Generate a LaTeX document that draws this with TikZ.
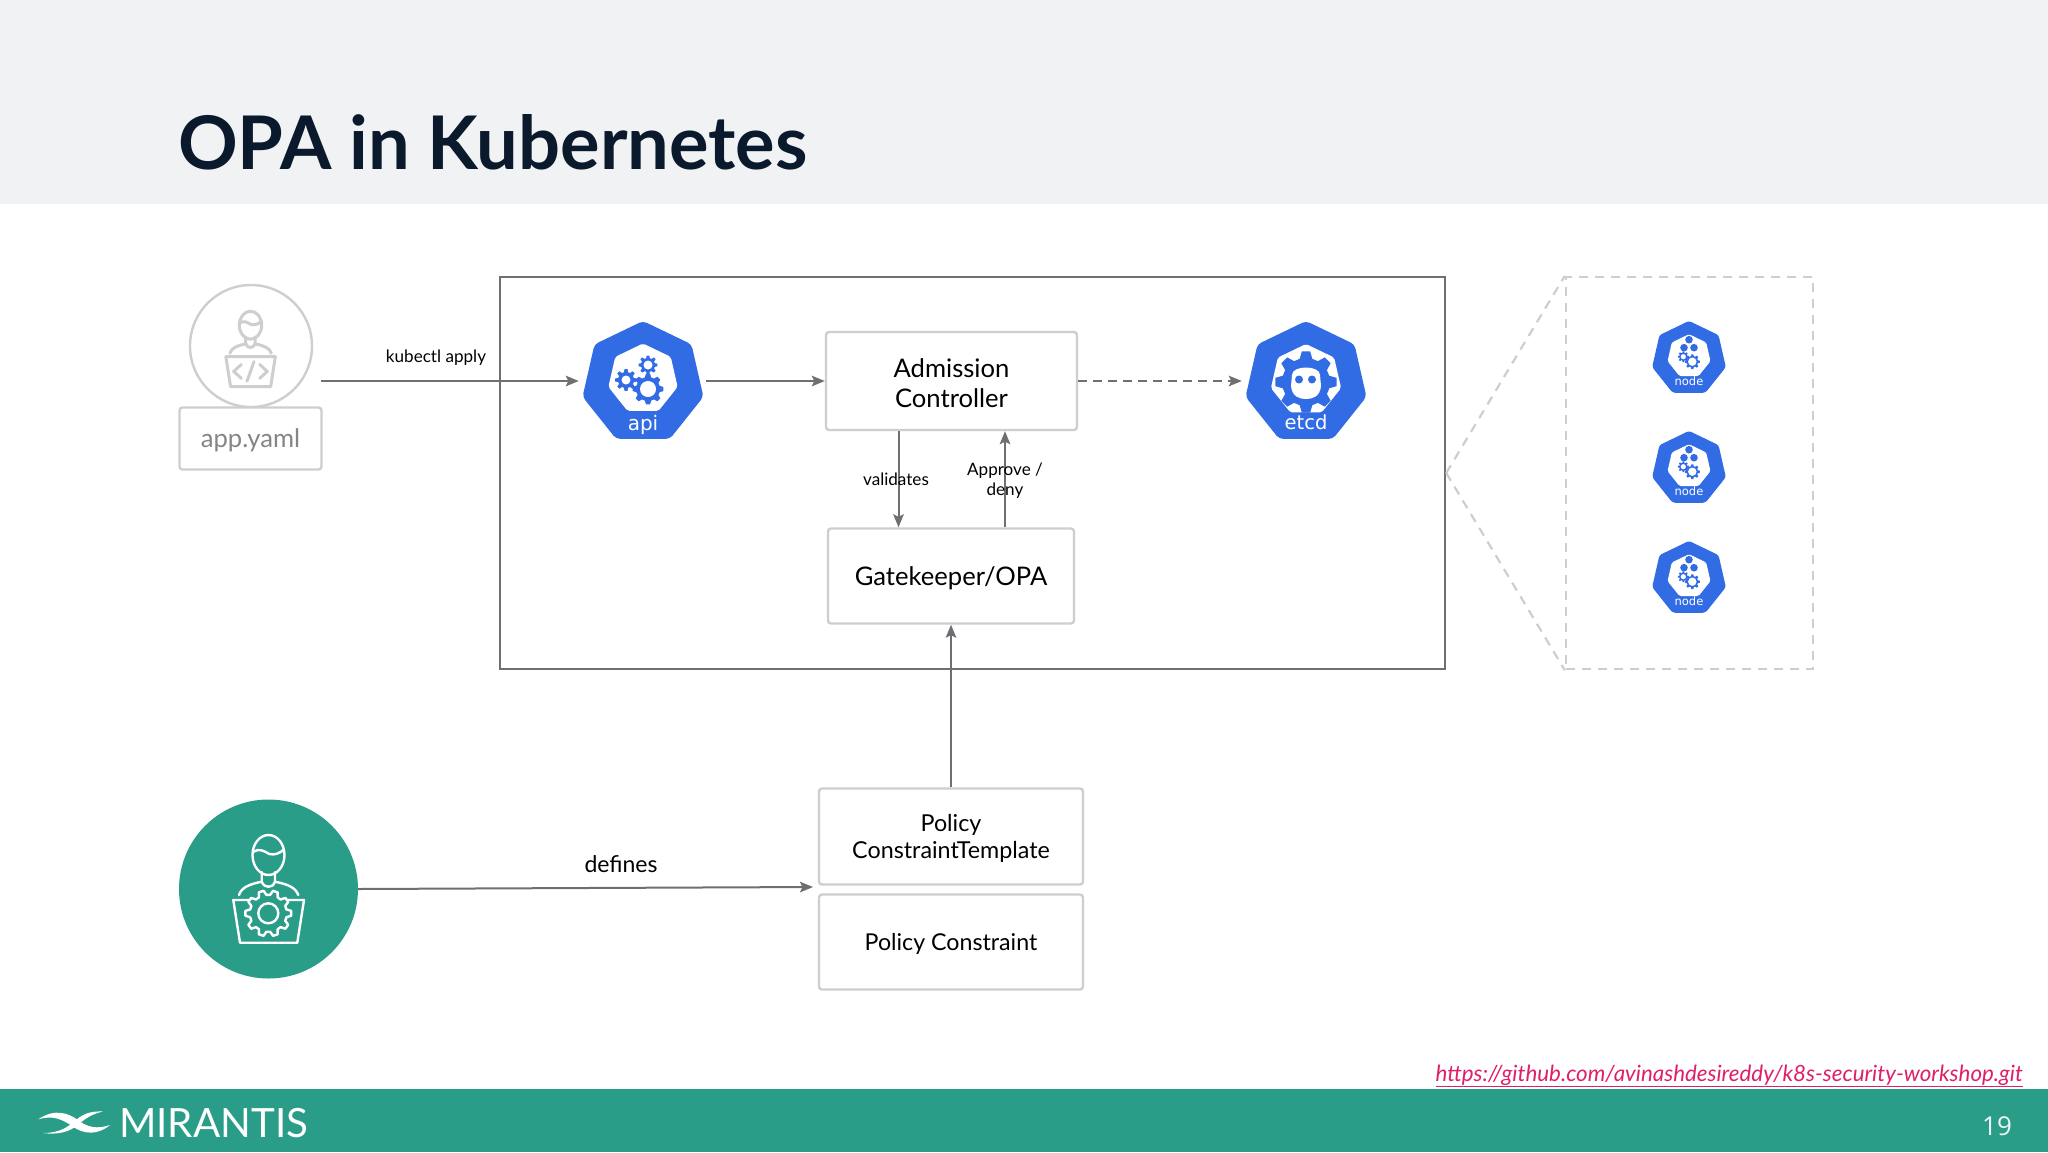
\documentclass[tikz,border=0pt]{standalone}
\usepackage{fontspec}
\setmainfont{Lato}
\newfontfamily\dejavu{DejaVu Sans}
\newfontfamily\opensans{Open Sans}
\usetikzlibrary{arrows.meta,shapes.geometric}
\definecolor{kblue}{HTML}{326CE5}
\definecolor{mteal}{HTML}{2A9D89}
\definecolor{band}{HTML}{F0F2F4}
\definecolor{conn}{HTML}{6E6F72}
\definecolor{lightb}{HTML}{CDCED0}
\definecolor{titlec}{HTML}{0A1A2C}
\definecolor{linkc}{HTML}{DF1F6B}
\newcommand\fsz[1]{\fontsize{#1}{\the\dimexpr #1pt*115/100\relax}\selectfont}
\newcommand\lowr[1]{\raisebox{-2pt}[\height][\depth]{#1}}
\tikzset{
  x=1pt,y=-1pt,
  conline/.style={draw=conn,line width=2pt,-{Stealth[length=13pt,width=10.5pt,inset=2.5pt]}},
  softbox/.style={draw=lightb,line width=2.4pt,rounded corners=3pt,inner sep=0pt,align=center,text=black,font=\fsz{25.6}},
  smalllabel/.style={inner sep=0pt,align=center,text=black,font=\fontsize{17.1}{20}\selectfont},
  hexlabel/.style={inner sep=0pt,text=white},
  anchorbox/.style={inner sep=0pt,minimum width=#1,minimum height=#1},
}
% heptagon centred on the current origin
\newcommand\kubehept[3]{\fill[#2,rounded corners=#3] (-90:#1) -- (-38.57:#1) -- (12.86:#1) -- (64.29:#1) -- (115.71:#1) -- (167.14:#1) -- (218.57:#1) -- cycle;}
% gear: x, y, outer, inner, teeth, style
\newcommand\gearat[6]{\begin{scope}[shift={(#1,#2)}]
  \path[#6] ({180/#5}:#4) \foreach \k in {1,...,#5}{
    -- ({(\k-.34)*360/#5}:#4) -- ({(\k-.17)*360/#5}:#3) -- ({(\k+.17)*360/#5}:#3) -- ({(\k+.34)*360/#5}:#4)
  } -- cycle;
\end{scope}}
% person behind a laptop: x, y, scale, colour, line width, background
\newcommand\persona[6]{\begin{scope}[shift={(#1,#2)},scale=#3,draw=#4,line width=#5,line cap=round,line join=round]
  \draw (0,-34) ellipse [x radius=16,y radius=20];
  \draw (-14.8,-37.3) .. controls (-10,-41) and (-4,-38) .. (0.8,-35) .. controls (6,-33.5) and (12,-36) .. (15.5,-39.7);
  \draw (-6.8,-17) -- (-6.8,-7.3) .. controls (-5,-3) and (-2,-2.3) .. (0,-2.3) .. controls (2,-2.3) and (5,-3) .. (6.5,-7.3) -- (6.5,-17);
  \draw (-29.5,6) .. controls (-27,-2) and (-18,-5) .. (-6.8,-7.3);
  \draw (29.8,6) .. controls (27,-2) and (18,-5) .. (6.5,-7.3);
  \fill[#6] (-35.2,11) -- (35.5,11) -- (28.8,53.7) -- (-28.5,53.7) -- cycle;
  \draw (-35.2,11) -- (35.5,11) -- (28.8,53.7) -- (-28.5,53.7) -- cycle;
\end{scope}}
\begin{document}
\begin{tikzpicture}
\useasboundingbox (0,0) rectangle (2048,1152);
\fill[white] (0,0) rectangle (2048,1152);
\fill[band] (0,0) rectangle (2048,204);
\fill[mteal] (0,1089) rectangle (2048,1152);
\node[anchor=base west,inner sep=0pt,text=titlec,font=\bfseries\fsz{74}] (title) at (178,169) {OPA in Kubernetes};

% frames
\node[draw=conn,line width=2.4pt,inner sep=0pt,minimum width=945pt,minimum height=392pt] (main) at (972.5,473) {};
\node[draw=lightb,line width=2.4pt,dash pattern=on 9pt off 7pt,inner sep=0pt,minimum width=247pt,minimum height=392pt] (workers) at (1689.5,473) {};
\draw[lightb,line width=2.2pt,dash pattern=on 9pt off 7pt] (main.east) -- (workers.north west);
\draw[lightb,line width=2.2pt,dash pattern=on 9pt off 7pt] (main.east) -- (workers.south west);

% developer
\node[circle,draw=lightb,line width=2.4pt,fill=white,inner sep=0pt,minimum size=122pt] (dev) at (251,346) {};
\persona{250.5}{349}{0.7}{lightb}{3pt}{white}
\begin{scope}[shift={(250.5,349)},scale=0.7,draw=lightb,line width=3pt,line cap=round,line join=round]
  \draw (-13,22) -- (-24,32) -- (-13,42);
  \draw (13,22) -- (24,32) -- (13,42);
  \draw (5,18) -- (-5,46);
\end{scope}
\node[softbox,text=conn!85,fill=white,minimum width=142pt,minimum height=62pt] (app) at (250.5,438.5) {\lowr{app.yaml}};
\coordinate (appout) at (321,381);
\node[smalllabel] (kubectl) at (436,357.5) {kubectl apply};

% boxes
\node[softbox,minimum width=251pt,minimum height=98pt] (ac) at (951.5,381) {\lowr{Admission}\\\lowr{Controller}};
\node[softbox,minimum width=246pt,minimum height=95pt] (gk) at (951,576) {\lowr{Gatekeeper/OPA}};
\node[softbox,font=\fsz{23.3},minimum width=264pt,minimum height=96pt] (pct) at (951,836.5) {\lowr{Policy}\\\lowr{ConstraintTemplate}};
\node[softbox,font=\fsz{23.2},minimum width=264pt,minimum height=95pt] (pc) at (951,942) {\lowr{Policy Constraint}};

% hexagon anchors
\node[anchorbox=120pt] (api) at (643,381) {};
\node[anchorbox=120pt] (etcd) at (1306,381) {};
\node[anchorbox=73pt] (node1) at (1689,358) {};
\node[anchorbox=73pt] (node2) at (1689,468) {};
\node[anchorbox=73pt] (node3) at (1689,578) {};

% api
\begin{scope}[shift={(api.center)},shift={(0,2)}]
  \kubehept{62}{kblue}{4pt}
  \begin{scope}[shift={(0,-4)}]\kubehept{35.5}{white}{2pt}\end{scope}
  \gearat{-17}{-3}{11}{8}{8}{fill=kblue}
  \fill[white] (-17,-3) circle (4.5);
  \gearat{5}{-18}{9.5}{7}{8}{fill=kblue}
  \fill[white] (5,-18) circle (4.5);
  \gearat{5}{6}{15.5}{12}{8}{fill=kblue}
  \fill[white] (5,6) circle (8);
  \node[hexlabel,font=\dejavu\fsz{20}] (apilabel) at (0,42) {api};
\end{scope}

% etcd
\begin{scope}[shift={(etcd.center)},shift={(0,2)}]
  \kubehept{62}{kblue}{4pt}
  \begin{scope}[shift={(0,-3)}]\kubehept{36}{white}{2pt}\end{scope}
  \gearat{0}{-1}{31}{24}{8}{fill=kblue}
  \fill[white] (-14,-8) .. controls (-14,-18) and (14,-18) .. (14,-8) -- (15,3) .. controls (14,14) and (6,16) .. (0,16) .. controls (-6,16) and (-14,14) .. (-15,3) -- cycle;
  \fill[kblue] (-7,-3.5) circle (4);
  \fill[kblue] (6,-3.5) circle (4);
  \node[hexlabel,font=\dejavu\fsz{19.5}] (etcdlabel) at (0,39) {etcd};
\end{scope}

% worker nodes
\foreach \n/\m in {node1/nodelabelone,node2/nodelabeltwo,node3/nodelabelthree}{
\begin{scope}[shift={(\n.center)},shift={(0,0.7)}]
  \kubehept{37.8}{kblue}{2.5pt}
  \begin{scope}[shift={(0,-2.5)}]\kubehept{22}{white}{1.5pt}\end{scope}
  \fill[kblue] (0,-19) circle (3.8);
  \fill[kblue] (-5,-11) circle (3.8);
  \fill[kblue] (5,-11) circle (3.8);
  \gearat{-5.7}{-2}{5.5}{4}{8}{fill=kblue}
  \fill[white] (-5.7,-2) circle (2.6);
  \gearat{3.3}{3}{7.5}{5.6}{8}{fill=kblue}
  \fill[white] (3.3,3) circle (4.2);
  \node[hexlabel,font=\dejavu\fsz{11.5}] (\m) at (0,23) {node};
\end{scope}}

% admin
\node[circle,fill=mteal,inner sep=0pt,minimum size=179pt] (admin) at (268.5,889) {};
\persona{268.5}{889}{1}{white}{2.4pt}{mteal}
\gearat{268.3}{913.3}{23}{18.5}{10}{fill=mteal,draw=white,line width=2.4pt,line join=round}
\draw[white,line width=2.4pt] (268.3,913.3) circle (10);

% connectors
\draw[conline] (appout) -- ([xshift=-4pt]api.west);
\draw[conline] ([xshift=3pt]api.east) -- (ac.west);
\draw[conline,dashed,dash pattern=on 9pt off 6pt] (ac.east) -- ([xshift=-4pt]etcd.west);
\draw[conline] ([xshift=-53pt]ac.south) -- ([xshift=-53pt]ac.south |- gk.north);
\draw[conline] ([xshift=54pt]gk.north) -- ([xshift=54pt]gk.north |- ac.south);
\draw[conline] (pct.north) -- (gk.south);
\coordinate (pctin) at (813,887);
\draw[conline] (admin.east) -- (pctin);

% connector labels
\node[smalllabel] (validates) at (896,479) {validates};
\node[smalllabel] (approve) at (1005,481) {Approve /\\deny};
\node[inner sep=0pt,text=black,font=\fsz{23}] (defines) at (621,864) {defines};

% footer
\node[anchor=base east,inner sep=0pt,text=linkc,font=\itshape\fsz{22.35}] (link) at (2023,1081) {\underline{https://github.com/avinashdesireddy/k8s-security-workshop.git}};
\fill[white] (38.3,1119.3) .. controls (55,1108) and (68,1113) .. (78,1120) .. controls (88,1128) and (98,1129) .. (110,1125) .. controls (98,1135) and (84,1135) .. (72,1126) .. controls (62,1119) and (52,1115) .. (38.3,1119.3) -- cycle;
\fill[white] (43,1133) .. controls (60,1133) and (68,1127) .. (76,1120) .. controls (84,1113) and (92,1111) .. (103,1111.5) .. controls (92,1114) and (86,1118) .. (79,1124) .. controls (70,1132) and (58,1135) .. (43,1133) -- cycle;
\node[anchor=base west,inner sep=0pt,text=white,font=\fsz{40.3}] (brand) at (119,1137) {MIRANTIS};
\node[inner sep=0pt,text=white!92!mteal,font=\opensans\fsz{26}] (page) at (1997,1126) {19};
\end{tikzpicture}
\end{document}
